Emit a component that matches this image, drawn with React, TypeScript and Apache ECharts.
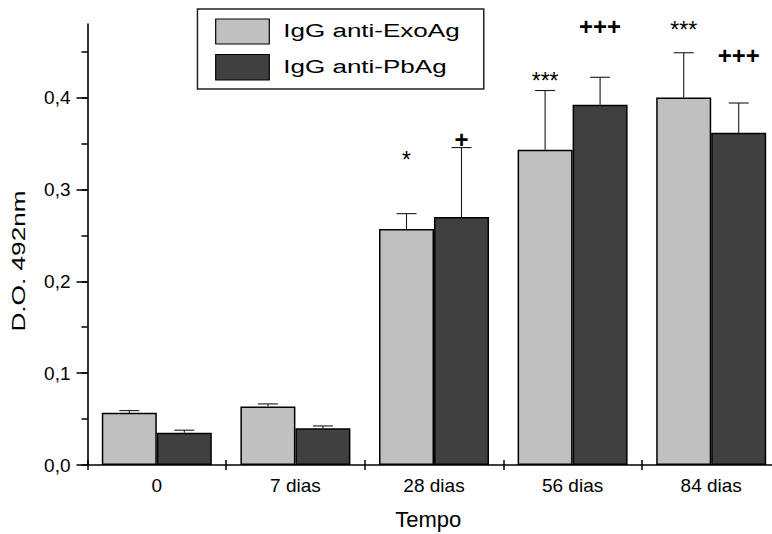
import React, { useEffect, useRef } from 'react';
import * as echarts from 'echarts';

// ---- data ----
const categories = ['0', '7 dias', '28 dias', '56 dias', '84 dias'];
const seriesNames = ['IgG anti-ExoAg', 'IgG anti-PbAg'];
const exoMeans = [0.057, 0.0636, 0.257, 0.343, 0.4];
const exoErrors = [0.0022, 0.0029, 0.0166, 0.0646, 0.0487];
const pbMeans = [0.035, 0.04, 0.27, 0.392, 0.3615];
const pbErrors = [0.0029, 0.0025, 0.0755, 0.03, 0.0325];
const exoMarks = ['', '', '*', '***', '***'];
const exoMarkLevels = [0, 0, 0.337, 0.423, 0.479];
const pbMarks = ['', '', '+', '+++', '+++'];
const pbMarkLevels = [0, 0, 0.354, 0.477, 0.446];
const yMajorTicks = [0, 0.1, 0.2, 0.3, 0.4];
const yMinorStep = 0.05;
const yAxisMax = 0.48;
const xAxisTitle = 'Tempo';
const yAxisTitle = 'D.O. 492nm';

// ---- layout / style ----
const FONT = "'Liberation Sans', Arial, Helvetica, sans-serif";
const LEFT = 87.5;
const TOP = 24;
const BOTTOM_Y = 465;
const PLOT_W = 693;
const PLOT_H = BOTTOM_Y - TOP;
const PX_PER_UNIT = PLOT_H / yAxisMax;
const MAJOR_MAX = yMajorTicks[yMajorTicks.length - 1];
const MAJOR_INTERVAL = yMajorTicks[1] - yMajorTicks[0];
const MINOR_MAX = 0.45;
const MAJOR_TOP = BOTTOM_Y - MAJOR_MAX * PX_PER_UNIT;
const MINOR_TOP = BOTTOM_Y - MINOR_MAX * PX_PER_UNIT;
const BAR_W = 55;
const CAP_W = 20;
const COLORS = ['#c0c0c0', '#404040'];

const errorRender = (offset: number) => (params: any, api: any) => {
  const i = api.value(0);
  const m = api.value(1);
  const e = api.value(2);
  const base = api.coord([i, m]);
  const top = api.coord([i, m + e]);
  const x = base[0] + offset;
  return {
    type: 'group',
    children: [
      { type: 'line', shape: { x1: x, y1: base[1], x2: x, y2: top[1] }, style: { stroke: '#1a1a1a', lineWidth: 1.1 } },
      { type: 'line', shape: { x1: x - CAP_W / 2, y1: top[1], x2: x + CAP_W / 2, y2: top[1] }, style: { stroke: '#1a1a1a', lineWidth: 1.1 } },
    ],
  };
};

const markRender = (offset: number, marks: string[], bold: boolean, dy: number) => (params: any, api: any) => {
  const i = api.value(0);
  const lv = api.value(1);
  const p = api.coord([i, lv]);
  return {
    type: 'text',
    x: p[0] + offset,
    y: p[1] + dy,
    style: {
      text: marks[i],
      fontFamily: FONT,
      fontSize: bold ? 24 : 23,
      fontWeight: bold ? 'bold' : 'normal',
      fill: '#000',
      align: 'center',
      verticalAlign: 'middle',
    },
  };
};

export default function App() {
  const ref = useRef<HTMLDivElement>(null);
  useEffect(() => {
    if (!ref.current) return;
    const chart = echarts.init(ref.current, undefined, { renderer: 'svg' });
    const gridBase = { left: LEFT, width: PLOT_W, outerBoundsMode: 'none', containLabel: false };
    const option: any = {
      animation: false,
      backgroundColor: '#fff',
      textStyle: { fontFamily: FONT },
      grid: [
        { ...gridBase, top: TOP, height: PLOT_H },
        { ...gridBase, top: MAJOR_TOP, height: BOTTOM_Y - MAJOR_TOP },
        { ...gridBase, top: MINOR_TOP, height: BOTTOM_Y - MINOR_TOP },
      ],
      xAxis: [
        {
          type: 'category', gridIndex: 0, data: categories, position: 'bottom',
          axisLine: { show: true, lineStyle: { color: '#000', width: 1.6 } },
          axisTick: { show: true, length: 5, lineStyle: { color: '#000', width: 1.5 } },
          axisLabel: { color: '#000', fontSize: 19, fontFamily: FONT, margin: 11 },
          splitLine: { show: false },
        },
        {
          type: 'category', gridIndex: 0, data: categories, position: 'bottom',
          axisLine: { show: false },
          axisTick: { show: true, inside: true, length: 5, lineStyle: { color: '#000', width: 1.5 } },
          axisLabel: { show: false },
          splitLine: { show: false },
        },
        { type: 'category', gridIndex: 1, data: categories, show: false },
        { type: 'category', gridIndex: 2, data: categories, show: false },
      ],
      yAxis: [
        {
          type: 'value', gridIndex: 0, min: 0, max: yAxisMax,
          axisLine: { show: true, lineStyle: { color: '#000', width: 1.6 } },
          axisTick: { show: false },
          axisLabel: { show: false },
          splitLine: { show: false },
        },
        {
          type: 'value', gridIndex: 1, min: yMajorTicks[0], max: MAJOR_MAX, interval: MAJOR_INTERVAL,
          axisLine: { show: false },
          axisTick: { show: true, length: 11, lineStyle: { color: '#000', width: 1.5 } },
          axisLabel: {
            color: '#000', fontSize: 19, fontFamily: FONT, margin: 17,
            formatter: (v: number) => v.toFixed(1).replace('.', ','),
          },
          splitLine: { show: false },
        },
        {
          type: 'value', gridIndex: 2, min: 0, max: MINOR_MAX, interval: yMinorStep,
          axisLine: { show: false },
          axisTick: { show: true, length: 6, lineStyle: { color: '#000', width: 1.5 } },
          axisLabel: { show: false },
          splitLine: { show: false },
        },
      ],
      series: [
        {
          name: seriesNames[0], type: 'bar', xAxisIndex: 0, yAxisIndex: 0, data: exoMeans,
          barWidth: BAR_W, barGap: '0%',
          itemStyle: { color: COLORS[0], borderColor: '#000', borderWidth: 1.5 },
        },
        {
          name: seriesNames[1], type: 'bar', xAxisIndex: 0, yAxisIndex: 0, data: pbMeans,
          barWidth: BAR_W, barGap: '0%',
          itemStyle: { color: COLORS[1], borderColor: '#000', borderWidth: 1.5 },
        },
        {
          type: 'custom', xAxisIndex: 0, yAxisIndex: 0, encode: { x: 0, y: 1 },
          data: exoMeans.map((m, i) => [i, m, exoErrors[i]]),
          renderItem: errorRender(-BAR_W / 2), z: 5,
        },
        {
          type: 'custom', xAxisIndex: 0, yAxisIndex: 0, encode: { x: 0, y: 1 },
          data: pbMeans.map((m, i) => [i, m, pbErrors[i]]),
          renderItem: errorRender(BAR_W / 2), z: 5,
        },
        {
          type: 'custom', xAxisIndex: 0, yAxisIndex: 0, encode: { x: 0, y: 1 },
          data: exoMarks.map((t, i) => [i, exoMarkLevels[i]]).filter((d) => exoMarks[d[0]] !== ''),
          renderItem: markRender(-BAR_W / 2, exoMarks, false, 5), z: 6,
        },
        {
          type: 'custom', xAxisIndex: 0, yAxisIndex: 0, encode: { x: 0, y: 1 },
          data: pbMarks.map((t, i) => [i, pbMarkLevels[i]]).filter((d) => pbMarks[d[0]] !== ''),
          renderItem: markRender(BAR_W / 2, pbMarks, true, 0), z: 6,
        },
      ],
      graphic: [
        {
          type: 'rect', left: 196.7, top: 8.3, z: 10,
          shape: { x: 0, y: 0, width: 286.3, height: 80 },
          style: { fill: '#fff', stroke: '#222', lineWidth: 1.5 },
        },
        {
          type: 'rect', x: 215.7, y: 19, z: 11,
          shape: { x: 0, y: 0, width: 53.6, height: 25 },
          style: { fill: COLORS[0], stroke: '#000', lineWidth: 1.2 },
        },
        {
          type: 'rect', x: 215.7, y: 54.5, z: 11,
          shape: { x: 0, y: 0, width: 53.6, height: 25.5 },
          style: { fill: COLORS[1], stroke: '#000', lineWidth: 1.2 },
        },
        {
          type: 'text', x: 283.3, y: 30.7, scaleX: 1.37, z: 11,
          style: { text: seriesNames[0], fontFamily: FONT, fontSize: 19, fill: '#000', align: 'left', verticalAlign: 'middle' },
        },
        {
          type: 'text', x: 283.3, y: 66.1, scaleX: 1.37, z: 11,
          style: { text: seriesNames[1], fontFamily: FONT, fontSize: 19, fill: '#000', align: 'left', verticalAlign: 'middle' },
        },
        {
          type: 'text', x: 428.3, y: 519, z: 11,
          style: { text: xAxisTitle, fontFamily: FONT, fontSize: 22, fill: '#000', align: 'center', verticalAlign: 'middle' },
        },
        {
          type: 'text', x: 18.4, y: 261, rotation: Math.PI / 2, scaleX: 1.38, z: 11,
          style: { text: yAxisTitle, fontFamily: FONT, fontSize: 19, fill: '#000', align: 'center', verticalAlign: 'middle' },
        },
      ],
    };
    chart.setOption(option);
    return () => chart.dispose();
  }, []);
  return <div ref={ref} style={{ width: 772, height: 534, position: 'absolute', left: 0, top: 0 }} />;
}
